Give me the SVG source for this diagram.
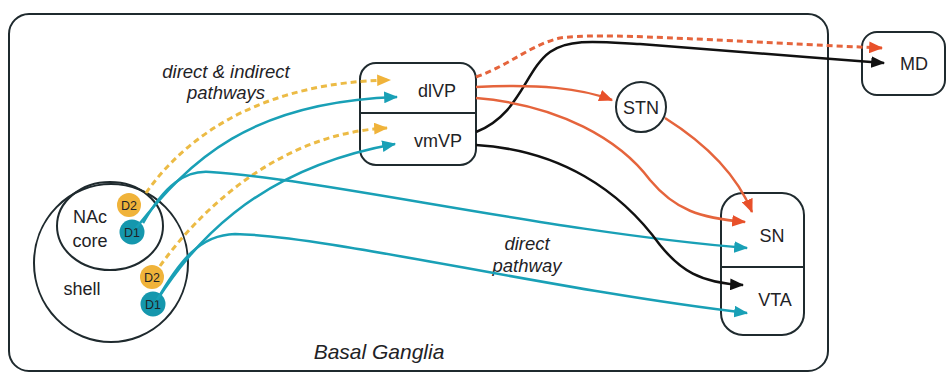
<svg xmlns="http://www.w3.org/2000/svg" width="946" height="374" viewBox="0 0 946 374">
<style>
.box{fill:none;stroke:#1f2a2e;stroke-width:2}
.lbl{font-family:"Liberation Sans",Arial,sans-serif;font-size:18px;fill:#1f2326;text-anchor:middle}
.it{font-family:"Liberation Sans",Arial,sans-serif;font-size:18.5px;font-style:italic;fill:#1f2326;text-anchor:middle}
.dl{font-family:"Liberation Sans",Arial,sans-serif;font-size:12.5px;fill:#1f2326;text-anchor:middle}
.c{fill:none;stroke-width:2.5}
.teal{stroke:#19a0b6}
.blk{stroke:#111}
.org{stroke:#e5643c}
.yel{stroke:#ecbb45;stroke-dasharray:6 4;stroke-width:3}
.od{stroke:#e5643c;stroke-dasharray:6 4;stroke-width:3}
</style>
<defs>
<marker id="aT" viewBox="0 0 12 10" refX="11" refY="5" markerWidth="14" markerHeight="12" orient="auto" markerUnits="userSpaceOnUse"><path d="M0,0 L12,5 L0,10 z" fill="#19a0b6"/></marker>
<marker id="aY" viewBox="0 0 12 10" refX="11" refY="5" markerWidth="14" markerHeight="12" orient="auto" markerUnits="userSpaceOnUse"><path d="M0,0 L12,5 L0,10 z" fill="#f0b33a"/></marker>
<marker id="aK" viewBox="0 0 12 10" refX="11" refY="5" markerWidth="14" markerHeight="12" orient="auto" markerUnits="userSpaceOnUse"><path d="M0,0 L12,5 L0,10 z" fill="#111"/></marker>
<marker id="aO" viewBox="0 0 12 10" refX="11" refY="5" markerWidth="14" markerHeight="12" orient="auto" markerUnits="userSpaceOnUse"><path d="M0,0 L12,5 L0,10 z" fill="#e8502a"/></marker>
</defs>
<rect width="946" height="374" fill="#fff"/>
<g id="basal-ganglia">
<rect class="box" x="9" y="14" width="819" height="357" rx="20"/>
<text class="it" x="379" y="359" style="font-size:21px">Basal Ganglia</text>
</g>
<g id="nac">
<ellipse class="box" cx="111" cy="263" rx="77" ry="79"/>
<ellipse class="box" cx="110" cy="226" rx="53" ry="44"/>
<text class="lbl" x="90" y="223">NAc</text>
<text class="lbl" x="90" y="247">core</text>
<text class="lbl" x="82" y="295">shell</text>
</g>
<g id="core-d2"><circle cx="129" cy="205" r="12" fill="#f0b33a"/><text class="dl" x="129" y="209.5">D2</text></g>
<g id="core-d1"><circle cx="132" cy="232" r="12.5" fill="#1597ad"/><text class="dl" x="132" y="236.5">D1</text></g>
<g id="shell-d2"><circle cx="152" cy="277" r="12" fill="#f0b33a"/><text class="dl" x="152" y="281.5">D2</text></g>
<g id="shell-d1"><circle cx="153" cy="304" r="12.5" fill="#1597ad"/><text class="dl" x="153" y="308.5">D1</text></g>
<g id="vp">
<rect class="box" x="360" y="63" width="116" height="102" rx="16"/>
<line class="box" x1="360" y1="113" x2="476" y2="113"/>
<text class="lbl" x="437" y="97">dlVP</text>
<text class="lbl" x="438" y="147">vmVP</text>
</g>
<g id="stn">
<circle class="box" cx="641" cy="107" r="25"/>
<text class="lbl" x="641" y="114">STN</text>
</g>
<g id="sn-vta">
<rect class="box" x="721" y="193" width="83" height="142" rx="22"/>
<line class="box" x1="721" y1="267" x2="804" y2="267"/>
<text class="lbl" x="772" y="242">SN</text>
<text class="lbl" x="775" y="306">VTA</text>
</g>
<g id="md">
<rect class="box" x="862" y="32" width="83" height="63" rx="15"/>
<text class="lbl" x="914" y="70">MD</text>
</g>
<text class="it" x="226" y="78">direct &amp; indirect</text>
<text class="it" x="226" y="99">pathways</text>
<text class="it" x="527" y="250">direct</text>
<text class="it" x="527" y="272">pathway</text>
<g id="connectors">
<path class="c yel" d="M146,193 C190,130 270,82 390,80" marker-end="url(#aY)"/>
<path class="c yel" d="M160,266 C200,210 280,133 387,128" marker-end="url(#aY)"/>
<path class="c teal" d="M136,228 C190,160 250,102 397,97" marker-end="url(#aT)"/>
<path class="c teal" d="M143,223 C165,185 185,170 210,172 C330,180 550,232 747,248" marker-end="url(#aT)"/>
<path class="c teal" d="M157,300 C190,250 250,170 395,144" marker-end="url(#aT)"/>
<path class="c teal" d="M157,300 C180,260 200,235 235,234 C330,236 550,290 747,313" marker-end="url(#aT)"/>
<path class="c blk" d="M476,132 C520,115 525,70 550,52 C570,38 600,42 640,44 C700,48 800,57 884,63" marker-end="url(#aK)"/>
<path class="c blk" d="M476,145 C560,150 620,190 660,245 C680,270 700,283 743,285" marker-end="url(#aK)"/>
<path class="c od" d="M476,77 C510,65 530,45 560,38 C600,32 700,40 882,48" marker-end="url(#aO)"/>
<path class="c org" d="M476,87 C540,84 580,88 612,100" marker-end="url(#aO)"/>
<path class="c org" d="M476,98 C560,105 620,140 650,180 C675,210 700,218 745,222" marker-end="url(#aO)"/>
<path class="c org" d="M665,118 C700,140 735,170 752,212" marker-end="url(#aO)"/>
</g>
</svg>
